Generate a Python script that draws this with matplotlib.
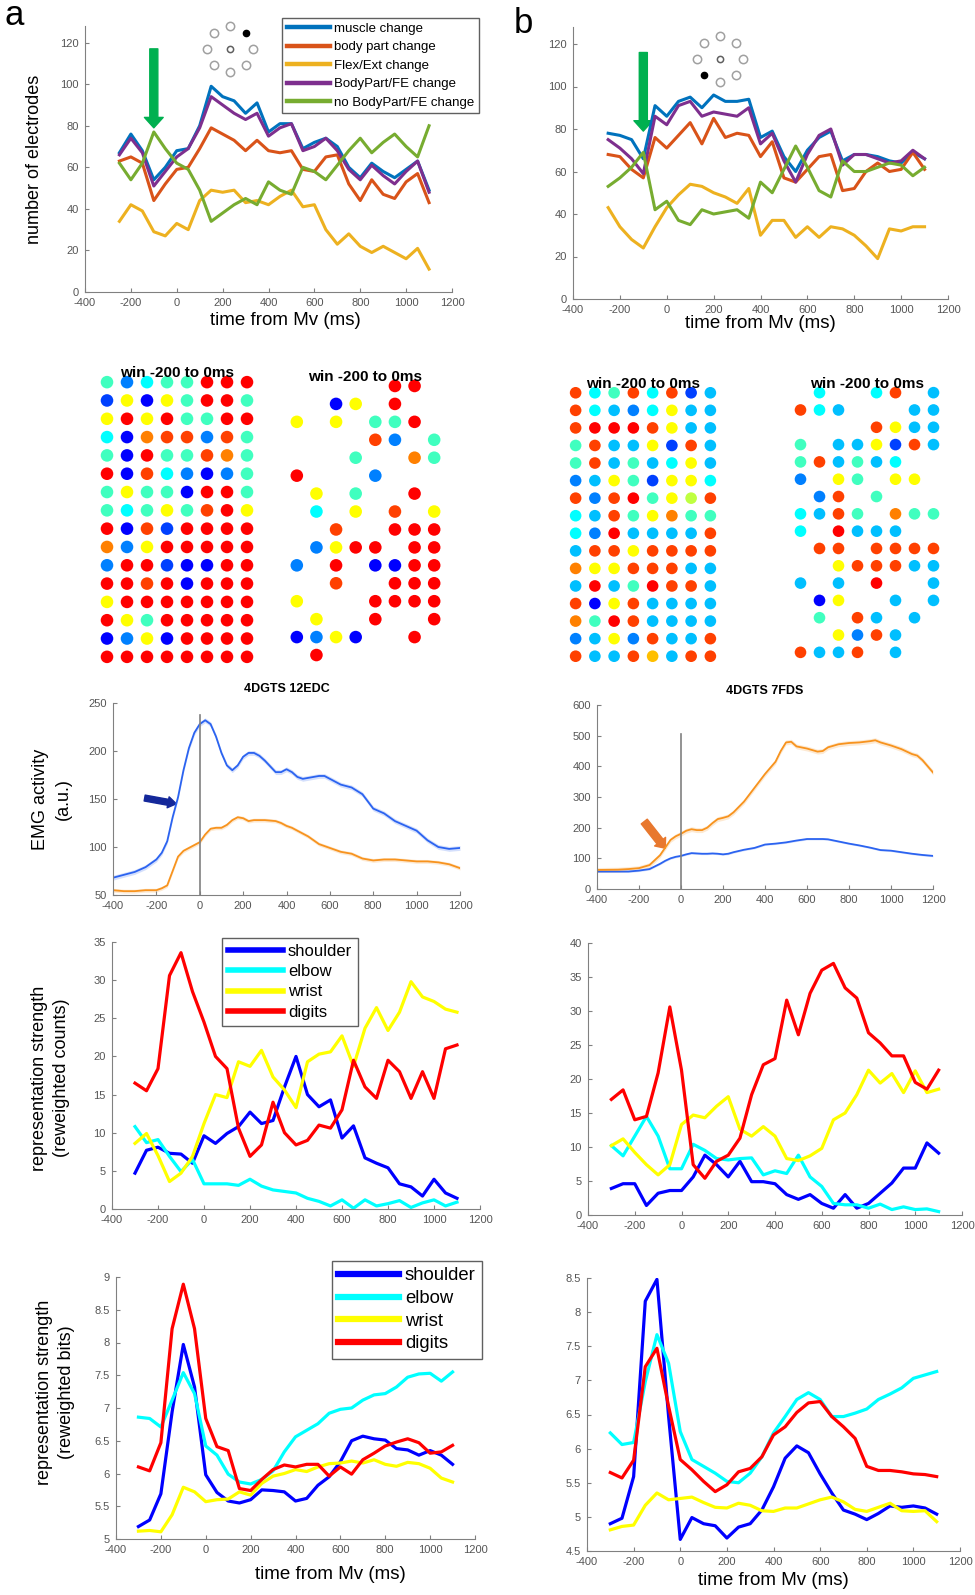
import numpy as np
import matplotlib
matplotlib.use("Agg")
import matplotlib.pyplot as plt
from matplotlib.patches import FancyArrowPatch
from matplotlib.ticker import FuncFormatter

plt.rcParams['font.family'] = ['Liberation Sans', 'DejaVu Sans']
plt.rcParams['axes.unicode_minus'] = False

# ----------------------------------------
# Data: number of electrodes per change type (50 ms bins)
# ----------------------------------------
t_change = np.arange(-250, 1101, 50)
change_labels = ["muscle change", "body part change", "Flex/Ext change",
                 "BodyPart/FE change", "no BodyPart/FE change"]
change_colors = ["#0072BD", "#D95319", "#EDB120", "#7E2F8E", "#77AC30"]

muscle_a = [67, 76, 68, 54, 60, 68, 69, 80, 99, 94, 92, 86, 91, 77, 81, 81, 69, 72, 74, 70, 60, 55, 62, 58, 55, 59, 63, 49]
bodypart_a = [63, 65, 62, 44, 52, 59, 60, 69, 79, 76, 73, 68, 73, 68, 67, 68, 59, 58, 65, 66, 52, 44, 54, 47, 45, 53, 57, 43]
flexext_a = [34, 42, 39, 29, 27, 33, 30, 44, 49, 48, 49, 43, 44, 42, 46, 49, 41, 42, 30, 23, 28, 22, 19, 22, 19, 16, 21, 11]
bpfe_a = [66, 74, 67, 51, 58, 65, 69, 79, 94, 90, 86, 83, 86, 75, 79, 81, 68, 70, 74, 68, 59, 54, 61, 56, 52, 58, 63, 48]
nochange_a = [62, 54, 62, 77, 69, 62, 59, 49, 34, 38, 42, 45, 42, 53, 49, 47, 60, 58, 54, 61, 68, 74, 67, 72, 76, 70, 65, 80]

muscle_b = [78, 77, 75, 66, 91, 86, 93, 95, 90, 96, 93, 93, 94, 76, 79, 67, 60, 70, 76, 79, 65, 68, 68, 67, 65, 64, 69, 66]
bodypart_b = [68, 67, 61, 57, 76, 71, 77, 83, 73, 85, 76, 78, 77, 67, 74, 57, 55, 61, 67, 68, 51, 52, 60, 64, 60, 61, 69, 61]
flexext_b = [43, 34, 28, 24, 34, 43, 49, 54, 53, 50, 48, 45, 52, 30, 37, 37, 29, 34, 29, 34, 33, 30, 25, 19, 33, 32, 34, 34]
bpfe_b = [75, 71, 66, 59, 86, 82, 91, 93, 86, 88, 87, 86, 90, 73, 78, 65, 55, 68, 77, 80, 63, 68, 68, 66, 64, 65, 70, 66]
nochange_b = [53, 57, 62, 69, 42, 46, 37, 35, 42, 40, 41, 42, 38, 55, 50, 61, 72, 62, 51, 48, 65, 60, 60, 62, 64, 63, 58, 62]

# direction of the recorded movement in the small target icon (degrees)
icon_target_a = 45
icon_target_b = 225

# ----------------------------------------
# Data: electrode grids, one letter per electrode ('.' = not shown)
# ----------------------------------------
jet_colors = {'B': '#0000ff', 'b': '#0040ff', 'D': '#0080ff', 'L': '#00bfff',
              'C': '#00ffff', 'A': '#40ffbf', 'G': '#bfff40', 'Y': '#ffff00',
              'g': '#ffbf00', 'o': '#ff8000', 'O': '#ff4000', 'R': '#ff0000'}

grid_a_all = ["ADCAARRR", "bYBYARRA", "YRYRAARR", "CBoOODOA",
              "ABRAAOoA", "RBOCDBDA", "AYAABRRA", "ACAYAORY",
              "RBObRRRR", "oDYRRRRR", "DRRbBBRR", "RRORBRRR",
              "YRRRRRRR", "RYARRRRR", "BDYBRRRR", "RRRRRRRR"]
grid_a_sel = [".....RR.", "..BY.R..", "Y.Y.AAR.", "....OD.A",
              "...A..oA", "R...D...", ".Y.A..R.", ".C.Y.O.Y",
              "..O..RRR", ".DYRR.RR", "D.R.BBRR", "..O..RRR",
              "Y...RRRR", ".Y..R..R", "BDYB..R.", ".R......"]
grid_b_all = ["OCAOCObL", "OCLDCYLL", "ORRROYLL", "AOLLYbOL",
              "AOLALCYL", "DLYAbYYC", "ODORAYGO", "CLOAYoAA",
              "CDRLLLLO", "LOOYOOOO", "oYYOOOLL", "LRLAROOL",
              "OBYOLLLL", "oAROLLLL", "DLYDOLLO", "OLLOgLOO"]
grid_b_sel = [".C..CO.L", "OCL...LL", "....OYLL", "A.LLYbOL",
              "AOLALC..", "D.YA.YY.", ".DO.A...", "CLOA.oAA",
              "C.RLLL..", ".OO.OOOO", "..YOOOLL", "L.L.R..L",
              ".BY..L.L", ".A.OL.L.", "..YDOL..", "OLLO.L.."]

# ----------------------------------------
# Data: EMG traces (a.u.)
# ----------------------------------------
emg_t_a = [-400, -350, -300, -250, -200, -175, -150, -125, -100, -75, -50, -25, 0, 25, 50, 75, 100, 125,
           150, 175, 200, 225, 250, 275, 300, 350, 375, 400, 425, 450, 475, 500, 550, 575, 600, 650,
           700, 750, 800, 850, 900, 950, 1000, 1050, 1100, 1150, 1200]
edc_blue_a = [68, 71, 74, 79, 87, 94, 106, 131, 152, 180, 203, 219, 228, 232, 228, 215, 198, 185,
              180, 185, 194, 198, 198, 195, 190, 178, 178, 181, 178, 173, 171, 172, 174, 174, 171, 165,
              162, 155, 140, 135, 127, 122, 117, 107, 100, 98, 99]
edc_orange_a = [55, 54, 54, 55, 55, 57, 60, 75, 90, 96, 99, 102, 105, 113, 119, 120, 120, 123,
                128, 131, 130, 127, 128, 128, 128, 127, 125, 122, 120, 117, 114, 111, 103, 101, 99, 95,
                93, 88, 86, 87, 87, 86, 85, 85, 84, 82, 78]

emg_t_b = [-400, -300, -250, -200, -150, -100, -75, -50, -25, 0, 25, 50, 75, 100, 125, 150, 175, 200,
           225, 250, 300, 350, 400, 450, 475, 500, 525, 550, 600, 650, 675, 700, 750, 800, 850, 900,
           925, 950, 1000, 1050, 1100, 1125, 1150, 1200]
fds_orange_b = [62, 63, 65, 68, 78, 110, 135, 160, 172, 180, 190, 195, 192, 192, 200, 215, 228, 232,
                237, 250, 285, 330, 375, 415, 450, 478, 480, 465, 458, 448, 450, 462, 472, 476, 478, 482,
                485, 478, 468, 456, 440, 435, 420, 380]
fds_blue_b = [57, 57, 57, 60, 65, 82, 92, 100, 105, 108, 113, 117, 116, 115, 115, 116, 115, 113,
              115, 120, 128, 134, 145, 148, 150, 152, 155, 158, 163, 163, 163, 162, 155, 148, 142, 135,
              131, 127, 125, 120, 115, 113, 111, 108]

# ----------------------------------------
# Data: representation strength per joint (50 ms bins)
# ----------------------------------------
t_rep = np.arange(-300, 1101, 50)
joint_labels = ["shoulder", "elbow", "wrist", "digits"]
joint_colors = ["#0000ff", "#00ffff", "#ffff00", "#ff0000"]

shoulder_ca = [4.7, 7.7, 8.1, 7.3, 7.2, 6, 9.6, 8.6, 9.9, 10.8, 12.7, 11.2, 11.6, 16, 20, 15, 13.4, 14.3, 9.3, 10.9, 6.7, 6, 5.4, 3.3, 2.9, 1.7, 3.9, 2.1, 1.4]
elbow_ca = [10.8, 8.7, 9.1, 6.9, 4.9, 6.5, 3.3, 3.3, 3.3, 3.1, 3.9, 3, 2.5, 2.3, 2.1, 1.4, 1, 0.4, 1.2, 0.1, 1.2, 0.4, 0.7, 1.1, 0.2, 0.8, 1.2, 0.4, 0.9]
wrist_ca = [8.6, 9.9, 7, 3.6, 4.7, 6.9, 11.2, 15, 14.6, 19.3, 18.7, 20.8, 17.3, 15.6, 13.3, 19.3, 20.3, 20.6, 22.7, 18.7, 23.7, 26.4, 23.4, 25.8, 29.8, 27.8, 27.2, 26.2, 25.8]
digits_ca = [16.5, 15.5, 18.4, 30.6, 33.6, 28.5, 24.5, 20, 18.4, 10.6, 6.9, 8.4, 14, 10, 8.4, 9, 11, 10.6, 13, 19.5, 16, 14.5, 19.5, 18, 14.5, 18, 14.5, 21, 21.5]

shoulder_cb = [3.9, 4.6, 4.6, 1.4, 3.2, 3.6, 3.6, 5.6, 8.8, 7.4, 5.6, 7.9, 4.9, 4.9, 4.6, 3, 2.3, 3, 1.7, 1, 3, 1, 1.7, 3.2, 4.7, 6.9, 6.9, 10.6, 9.1]
elbow_cb = [10.2, 8.7, 11.6, 14.5, 11.6, 6.8, 6.8, 10.4, 9.5, 8.3, 8.1, 8.3, 8.4, 5.9, 6.5, 6.1, 8.8, 5.6, 4.2, 1.7, 1.5, 1.5, 1, 1.6, 0.8, 1.2, 0.8, 0.9, 0.5]
wrist_cb = [10.2, 11.2, 9.2, 7.4, 5.9, 7.4, 13.3, 14.7, 14.3, 16, 17.4, 12.6, 11.6, 13, 11.6, 8.3, 8, 8.7, 9.8, 14, 15, 17.7, 21.3, 19.4, 20.8, 18, 21.2, 18, 18.5]
digits_cb = [17, 18.4, 14, 14.5, 20.9, 30.6, 21.3, 7.4, 5.4, 7.9, 8.8, 11.3, 17.7, 22.1, 23, 31.6, 26.5, 32.6, 36, 37, 33.4, 31.9, 26.8, 25.3, 23.4, 23.4, 19.5, 18.5, 21.3]

shoulder_ba = [5.19, 5.29, 5.69, 6.94, 7.97, 7.32, 5.98, 5.71, 5.58, 5.55, 5.60, 5.75, 5.74, 5.72, 5.58, 5.62, 5.82, 5.95, 6.18, 6.50, 6.57, 6.53, 6.51, 6.38, 6.36, 6.28, 6.35, 6.28, 6.14]
elbow_ba = [6.86, 6.84, 6.71, 7.12, 7.54, 7.22, 6.42, 6.28, 5.99, 5.87, 5.84, 5.91, 6.04, 6.33, 6.56, 6.66, 6.76, 6.92, 6.98, 7.00, 7.12, 7.20, 7.22, 7.32, 7.47, 7.52, 7.53, 7.41, 7.55]
wrist_ba = [5.12, 5.13, 5.11, 5.37, 5.79, 5.72, 5.57, 5.60, 5.61, 5.72, 5.67, 5.85, 5.96, 6.00, 6.06, 6.03, 6.10, 6.15, 6.16, 6.19, 6.16, 6.21, 6.14, 6.11, 6.17, 6.15, 6.08, 5.93, 5.87]
digits_ba = [6.10, 6.04, 6.47, 8.21, 8.89, 8.21, 6.84, 6.41, 6.35, 5.77, 5.74, 5.91, 6.06, 6.13, 6.10, 6.14, 6.14, 5.96, 6.10, 5.99, 6.21, 6.31, 6.42, 6.48, 6.53, 6.47, 6.31, 6.33, 6.43]

shoulder_bb = [4.90, 4.98, 5.59, 8.16, 8.48, 6.47, 4.67, 4.99, 4.90, 4.87, 4.69, 4.85, 4.90, 5.10, 5.44, 5.86, 6.04, 5.94, 5.63, 5.35, 5.10, 5.04, 4.96, 5.05, 5.16, 5.14, 5.16, 5.13, 5.04]
elbow_bb = [6.23, 6.06, 6.09, 6.98, 7.67, 7.25, 6.25, 5.84, 5.74, 5.64, 5.52, 5.50, 5.64, 5.88, 6.23, 6.47, 6.72, 6.82, 6.72, 6.47, 6.47, 6.52, 6.58, 6.72, 6.80, 6.89, 7.03, 7.08, 7.13]
wrist_bb = [4.81, 4.86, 4.88, 5.17, 5.35, 5.25, 5.27, 5.29, 5.21, 5.14, 5.13, 5.20, 5.17, 5.09, 5.08, 5.13, 5.13, 5.19, 5.25, 5.29, 5.22, 5.11, 5.08, 5.14, 5.20, 5.09, 5.08, 5.09, 4.93]
digits_bb = [5.65, 5.57, 5.83, 7.20, 7.47, 6.62, 5.84, 5.69, 5.52, 5.37, 5.47, 5.66, 5.71, 5.88, 6.20, 6.32, 6.53, 6.67, 6.69, 6.47, 6.32, 6.15, 5.74, 5.68, 5.68, 5.66, 5.63, 5.62, 5.59]

# ----------------------------------------
# Figure helpers
# ----------------------------------------
W, H = 975, 1595
fig = plt.figure(figsize=(W / 100, H / 100), dpi=100)


def px_axes(left, top, right, bottom):
    """Axes placed by pixel edges (origin top-left)."""
    return fig.add_axes([left / W, 1 - bottom / H, (right - left) / W, (bottom - top) / H])


def matlab_style(ax, xlim, ylim, yticks, xticks=range(-400, 1201, 200)):
    ax.set_xlim(*xlim)
    ax.set_ylim(*ylim)
    ax.set_xticks(list(xticks))
    ax.set_yticks(list(yticks))
    for side in ("top", "right"):
        ax.spines[side].set_visible(False)
    for side in ("left", "bottom"):
        ax.spines[side].set_color("#808080")
        ax.spines[side].set_linewidth(0.8)
    ax.tick_params(direction="in", length=3, width=0.8, color="#808080",
                   labelsize=8, labelcolor="#555555", pad=4.5)
    ax.yaxis.set_major_formatter(FuncFormatter(lambda v, p: f"{v:g}"))


def block_arrow(ax, start, end, color, tail, head_w, head_l):
    arr = FancyArrowPatch(start, end, mutation_scale=1, color=color, shrinkA=0, shrinkB=0,
                          arrowstyle=f"simple,head_width={head_w},head_length={head_l},tail_width={tail}")
    ax.add_patch(arr)


def electrode_icon(cx, cy, target_deg):
    ax = px_axes(cx - 30, cy - 30, cx + 30, cy + 30)
    ax.set_xlim(-30, 30)
    ax.set_ylim(-30, 30)
    ax.axis("off")
    ang = np.arange(0, 360, 45)
    r = 23
    rest = ang[ang != target_deg]
    ax.plot(r * np.cos(np.deg2rad(rest)), r * np.sin(np.deg2rad(rest)), "o",
            mfc="none", mec="#a0a0a0", ms=6, mew=1.1)
    ax.plot([0], [0], "o", mfc="none", mec="#606060", ms=4.5, mew=1.1)
    ax.plot([r * np.cos(np.deg2rad(target_deg))], [r * np.sin(np.deg2rad(target_deg))], "o",
            color="black", ms=4.5)


def electrode_grid(box, grid, title, dot_size):
    ax = px_axes(*box)
    ax.set_xlim(0.5, 8.5)
    ax.set_ylim(16.5, 0.5)
    ax.axis("off")
    cols, rows, colors = [], [], []
    for i, line in enumerate(grid):
        for j, ch in enumerate(line):
            if ch != ".":
                cols.append(j + 1)
                rows.append(i + 1)
                colors.append(jet_colors[ch])
    ax.scatter(cols, rows, s=dot_size, c=colors, linewidths=0)
    ax.text(0.5, 1.0, title, transform=ax.transAxes, ha="center", va="center",
            fontsize=11, fontweight="bold", zorder=5)


def joint_legend(ax, anchor_px, size, spacing, handle_lw):
    leg = ax.legend(loc="upper left", bbox_to_anchor=(anchor_px[0] / W, 1 - anchor_px[1] / H),
                    bbox_transform=fig.transFigure, fontsize=size, frameon=True, fancybox=False,
                    edgecolor="#606060", framealpha=1, handlelength=3.3, handletextpad=0.3,
                    labelspacing=spacing, borderpad=0.35, borderaxespad=0)
    leg.get_frame().set_linewidth(1.0)
    for line in leg.get_lines():
        line.set_linewidth(handle_lw)
    return leg


# ----------------------------------------
# Row 1: electrode counts
# ----------------------------------------
ax1 = px_axes(85, 26, 452, 292)
for vals, lab, col in zip([muscle_a, bodypart_a, flexext_a, bpfe_a, nochange_a], change_labels, change_colors):
    ax1.plot(t_change, vals, color=col, lw=2.2, label=lab)
matlab_style(ax1, (-400, 1200), (0, 128), range(0, 121, 20))
ax1.set_ylabel("number of electrodes", fontsize=13)
ax1.yaxis.set_label_coords(-0.114, 0.5)
ax1.set_xlabel("time from Mv (ms)", fontsize=13.5)
ax1.xaxis.set_label_coords(0.545, -0.075)
block_arrow(ax1, (-100, 117), (-100, 79), "#00b050", 5.8, 13.5, 7.5)
joint_legend(ax1, (282, 18), 9.5, 0.47, 3.2)
electrode_icon(230, 49, icon_target_a)

ax2 = px_axes(573, 27, 948, 299)
for vals, col in zip([muscle_b, bodypart_b, flexext_b, bpfe_b, nochange_b], change_colors):
    ax2.plot(t_change, vals, color=col, lw=2.2)
matlab_style(ax2, (-400, 1200), (0, 128), range(0, 121, 20))
ax2.set_xlabel("time from Mv (ms)", fontsize=13.5)
ax2.xaxis.set_label_coords(0.5, -0.059)
block_arrow(ax2, (-100, 116), (-100, 79), "#00b050", 5.8, 13.5, 7.5)
electrode_icon(720, 59, icon_target_b)

fig.text(5 / W, 1 - 25 / H, "a", fontsize=25, va="baseline")
fig.text(514 / W, 1 - 33 / H, "b", fontsize=25, va="baseline")

# ----------------------------------------
# Row 2: electrode maps
# ----------------------------------------
electrode_grid((97, 373, 257, 666), grid_a_all, "win -200 to 0ms", 82)
electrode_grid((287, 377, 444, 664), grid_a_sel, "win -200 to 0ms", 82)
electrode_grid((566, 384, 720, 665), grid_b_all, "win -200 to 0ms", 70)
electrode_grid((791, 384, 943, 661), grid_b_sel, "win -200 to 0ms", 70)

# ----------------------------------------
# Row 3: EMG
# ----------------------------------------
emg_blue = "#2b63f0"
emg_orange = "#f7931e"

ax3 = px_axes(113, 703, 460, 895)
ax3.fill_between(emg_t_a, np.array(edc_blue_a) - 2.5, np.array(edc_blue_a) + 2.5, color=emg_blue, alpha=0.2, lw=0)
ax3.fill_between(emg_t_a, np.array(edc_orange_a) - 2, np.array(edc_orange_a) + 2, color=emg_orange, alpha=0.2, lw=0)
ax3.plot(emg_t_a, edc_blue_a, color=emg_blue, lw=1.3)
ax3.plot(emg_t_a, edc_orange_a, color=emg_orange, lw=1.3)
ax3.plot([0, 0], [50, 237], color="#808080", lw=1.2)
matlab_style(ax3, (-400, 1200), (50, 250), range(50, 251, 50))
ax3.set_title("4DGTS 12EDC", fontsize=9, fontweight="bold", pad=8)
ax3.set_ylabel("EMG activity\n(a.u.)", fontsize=13, linespacing=1.5)
ax3.yaxis.set_label_coords(-0.118, 0.5)
block_arrow(ax3, (-254, 151), (-108, 145), "#14289a", 4.3, 8, 6)

ax4 = px_axes(597, 705, 933, 889)
ax4.fill_between(emg_t_b, np.array(fds_orange_b) - 8, np.array(fds_orange_b) + 8, color=emg_orange, alpha=0.2, lw=0)
ax4.fill_between(emg_t_b, np.array(fds_blue_b) - 3, np.array(fds_blue_b) + 3, color=emg_blue, alpha=0.2, lw=0)
ax4.plot(emg_t_b, fds_blue_b, color=emg_blue, lw=1.3)
ax4.plot(emg_t_b, fds_orange_b, color=emg_orange, lw=1.3)
ax4.plot([0, 0], [0, 505], color="#808080", lw=1.2)
matlab_style(ax4, (-400, 1200), (0, 600), range(0, 601, 100))
ax4.set_title("4DGTS 7FDS", fontsize=9, fontweight="bold", pad=8)
block_arrow(ax4, (-175, 220), (-75, 133), "#e8782e", 5.5, 10, 6)

# ----------------------------------------
# Row 4: representation strength (counts)
# ----------------------------------------
ax5 = px_axes(112, 942, 480, 1209)
for vals, lab, col in zip([shoulder_ca, elbow_ca, wrist_ca, digits_ca], joint_labels, joint_colors):
    ax5.plot(t_rep, vals, color=col, lw=2.3, label=lab)
matlab_style(ax5, (-400, 1200), (0, 35), range(0, 36, 5))
ax5.set_ylabel("representation strength\n(reweighted counts)", fontsize=13, linespacing=1.4)
ax5.yaxis.set_label_coords(-0.114, 0.49)
joint_legend(ax5, (222, 938), 12, 0.32, 4)

ax6 = px_axes(588, 943, 962, 1215)
for vals, col in zip([shoulder_cb, elbow_cb, wrist_cb, digits_cb], joint_colors):
    ax6.plot(t_rep, vals, color=col, lw=2.3)
matlab_style(ax6, (-400, 1200), (0, 40), range(0, 41, 5))

# ----------------------------------------
# Row 5: representation strength (bits)
# ----------------------------------------
ax7 = px_axes(116, 1277, 475, 1539)
for vals, lab, col in zip([shoulder_ba, elbow_ba, wrist_ba, digits_ba], joint_labels, joint_colors):
    ax7.plot(t_rep, vals, color=col, lw=2.3, label=lab)
matlab_style(ax7, (-400, 1200), (5, 9), np.arange(5, 9.01, 0.5))
ax7.set_ylabel("representation strength\n(reweighted bits)", fontsize=13, linespacing=1.4)
ax7.yaxis.set_label_coords(-0.114, 0.56)
ax7.set_xlabel("time from Mv (ms)", fontsize=13.5)
ax7.xaxis.set_label_coords(0.596, -0.103)
joint_legend(ax7, (332, 1261), 13.3, 0.3, 4.5)

ax8 = px_axes(587, 1278, 960, 1551)
for vals, col in zip([shoulder_bb, elbow_bb, wrist_bb, digits_bb], joint_colors):
    ax8.plot(t_rep, vals, color=col, lw=2.3)
matlab_style(ax8, (-400, 1200), (4.5, 8.5), np.arange(4.5, 8.51, 0.5))
ax8.set_xlabel("time from Mv (ms)", fontsize=13.5)
ax8.xaxis.set_label_coords(0.5, -0.077)

fig.savefig("out.png", dpi=100)
